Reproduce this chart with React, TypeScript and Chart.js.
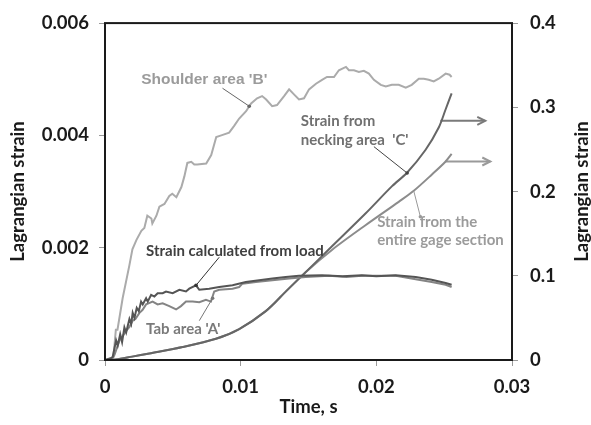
import React, { useEffect, useRef } from "react";
import { Chart, registerables } from "chart.js";

Chart.register(...registerables);

// ---------- tick labels ----------
const xTickLabels = ["0", "0.01", "0.02", "0.03"];
const leftTickLabels = ["0", "0.002", "0.004", "0.006"];
const rightTickLabels = ["0", "0.1", "0.2", "0.3", "0.4"];

// ---------- series (time s, strain) ----------
// Left axis
const shoulderB: number[][] = [
  [0, 0], [0.0006, 0], [0.0008, 0.00054], [0.00092, 0.00054], [0.0013, 0.0011], [0.0018, 0.00169],
  [0.00202, 0.00197], [0.00232, 0.00214], [0.00268, 0.0023], [0.0029, 0.00235], [0.00312, 0.00257],
  [0.00342, 0.00252], [0.00349, 0.00243], [0.00379, 0.00257], [0.00401, 0.00273], [0.00438, 0.00278],
  [0.00474, 0.00292], [0.00496, 0.00296], [0.00526, 0.0029], [0.00563, 0.00308], [0.00585, 0.00327],
  [0.00607, 0.00351], [0.00636, 0.00353], [0.00658, 0.00348], [0.0068, 0.00348], [0.00746, 0.0035],
  [0.00783, 0.00365], [0.0082, 0.00397], [0.00857, 0.004], [0.00915, 0.00405], [0.00952, 0.00417],
  [0.00989, 0.0043], [0.0104, 0.00443], [0.01077, 0.00457], [0.01121, 0.00466], [0.01158, 0.0047],
  [0.01188, 0.00464], [0.01232, 0.00452], [0.01268, 0.00454], [0.0132, 0.0047], [0.01357, 0.00482],
  [0.01393, 0.00473], [0.0143, 0.00464], [0.01467, 0.00466], [0.01504, 0.00482], [0.01555, 0.00492],
  [0.016, 0.00499], [0.01636, 0.00504], [0.01688, 0.00504], [0.01724, 0.00516], [0.01776, 0.00522],
  [0.01798, 0.00516], [0.01835, 0.00516], [0.01871, 0.00513], [0.01908, 0.00515], [0.01945, 0.0051],
  [0.01982, 0.00499], [0.02033, 0.0049], [0.0207, 0.00487], [0.02114, 0.0049], [0.02165, 0.0049],
  [0.02217, 0.00485], [0.02261, 0.0049], [0.02313, 0.00501], [0.0235, 0.00501], [0.02386, 0.00499],
  [0.02423, 0.00496], [0.0246, 0.00501], [0.02511, 0.0051], [0.0254, 0.00508], [0.02555, 0.00504],
];

const strainFromLoad: number[][] = [
  [0, 0], [0.00046, 0.000035], [0.00057, 0.000057], [0.00082, 0.00035], [0.00094, 0.00026],
  [0.00112, 0.00046], [0.00126, 0.00032], [0.00143, 0.00058], [0.00156, 0.00049], [0.0018, 0.00073],
  [0.00193, 0.00064], [0.00204, 0.00084], [0.00217, 0.00075], [0.00234, 0.00093], [0.00249, 0.00087],
  [0.00266, 0.00104], [0.00278, 0.00099], [0.00303, 0.0011], [0.00315, 0.00104], [0.0034, 0.00116],
  [0.00364, 0.00113], [0.00388, 0.00119], [0.00425, 0.00119], [0.0045, 0.00122], [0.00499, 0.00119],
  [0.00548, 0.00125], [0.00597, 0.00122], [0.00621, 0.00127], [0.00671, 0.00133], [0.00695, 0.00125],
  [0.00768, 0.00127], [0.00842, 0.0013], [0.0094, 0.00133], [0.01038, 0.00139], [0.01136, 0.00142],
  [0.01234, 0.00145], [0.01332, 0.00148], [0.0143, 0.0015], [0.016, 0.00151], [0.0175, 0.00149],
  [0.01893, 0.00151], [0.02, 0.00149], [0.02143, 0.00151], [0.0229, 0.00148], [0.02408, 0.00143],
  [0.02511, 0.00137], [0.02555, 0.00134],
];

const tabAreaA: number[][] = [
  [0, 0], [0.00055, 0.00003], [0.0007, 0.00009], [0.00107, 0.00035], [0.00129, 0.00042],
  [0.00156, 0.00052], [0.0018, 0.00059], [0.00204, 0.0007], [0.00224, 0.00073], [0.00254, 0.00084],
  [0.00276, 0.00089], [0.00303, 0.00099], [0.00351, 0.00104], [0.00388, 0.00099], [0.00425, 0.00101],
  [0.00474, 0.00096], [0.00524, 0.0009], [0.0056, 0.00096], [0.00597, 0.00104], [0.00646, 0.00104],
  [0.00695, 0.00103], [0.00744, 0.00107], [0.00781, 0.00104], [0.00805, 0.00122], [0.00842, 0.00125],
  [0.0094, 0.00127], [0.00989, 0.0013], [0.01013, 0.00136], [0.01112, 0.00139], [0.01234, 0.00142],
  [0.01357, 0.00145], [0.01479, 0.00148], [0.01651, 0.0015], [0.0178, 0.00148], [0.01893, 0.0015],
  [0.02143, 0.0015], [0.0229, 0.00144], [0.02408, 0.00139], [0.02511, 0.00134], [0.02555, 0.0013],
];

// Right axis
const neckingC: number[][] = [
  [0, 0], [0.0008, 0.0005], [0.002, 0.004], [0.00327, 0.0078], [0.00572, 0.0154], [0.00818, 0.0252],
  [0.00989, 0.0368], [0.01185, 0.058], [0.01332, 0.0812], [0.01479, 0.1043], [0.01675, 0.1353],
  [0.0192, 0.1739], [0.02116, 0.2064], [0.02226, 0.2223], [0.02362, 0.2493], [0.0246, 0.276],
  [0.02509, 0.2968], [0.02555, 0.3165],
];

const entireGage: number[][] = [
  [0, 0], [0.0008, 0.0005], [0.002, 0.004], [0.00327, 0.0078], [0.00572, 0.0154], [0.00818, 0.0252],
  [0.00989, 0.0368], [0.01185, 0.058], [0.01332, 0.0812], [0.01479, 0.1043], [0.01675, 0.131],
  [0.0192, 0.16], [0.02165, 0.1878], [0.02276, 0.2009], [0.0241, 0.2203], [0.02509, 0.2354],
  [0.02555, 0.2446],
];

const neckingArrow: number[][] = [[0.02472, 0.284], [0.02803, 0.284]];
const gageArrow: number[][] = [[0.02509, 0.2357], [0.0284, 0.2357]];

// ---------- annotations (data coords on left axis) ----------
const FONT = "Lato, 'Noto Sans', sans-serif";
const ARIAL = "'Liberation Sans', Arial, sans-serif";

const notes = [
  { text: "Shoulder area 'B'", at: [0.00732, 0.00499], align: "center", color: "#9b9b9b", font: `bold 15.5px ${ARIAL}` },
  { text: "Strain calculated from load", at: [0.00303, 0.00194], align: "left", color: "#404040", font: `bold 15px ${FONT}` },
  { text: "Tab area 'A'", at: [0.00303, 0.00055], align: "left", color: "#7a7a7a", font: `bold 15px ${FONT}` },
  { text: "Strain from", at: [0.01443, 0.00426], align: "left", color: "#707070", font: `bold 15px ${FONT}` },
  { text: "necking area  'C'", at: [0.01443, 0.00391], align: "left", color: "#707070", font: `bold 15px ${FONT}` },
  { text: "Strain from the", at: [0.02006, 0.00246], align: "left", color: "#9b9b9b", font: `bold 15px ${FONT}` },
  { text: "entire gage section", at: [0.02006, 0.00214], align: "left", color: "#9b9b9b", font: `bold 15px ${FONT}` },
];

const leaders = [
  { from: [0.00866, 0.00484], to: [0.01063, 0.00452], color: "#666666" },
  { from: [0.00842, 0.00183], to: [0.00671, 0.00133], color: "#333333" },
  { from: [0.00695, 0.0007], to: [0.00793, 0.0011], color: "#777777" },
  { from: [0.01982, 0.0038], to: [0.02227, 0.00333], color: "#444444" },
  { from: [0.02276, 0.00301], to: [0.02325, 0.00255], color: "#999999" },
];

const toPts = (arr: number[][]) => arr.map(([x, y]) => ({ x, y }));

const overlay = {
  id: "overlay",
  afterDatasetsDraw(chart: any) {
    const { ctx, chartArea: a, scales } = chart;
    const X = scales.x, Y = scales.y;
    ctx.save();
    // frame
    ctx.strokeStyle = "#1a1a1a";
    ctx.lineWidth = 2;
    ctx.strokeRect(a.left, a.top, a.right - a.left, a.bottom - a.top);

    // arrow heads
    chart.data.datasets.forEach((ds: any, i: number) => {
      if (!ds.isArrow) return;
      const meta = chart.getDatasetMeta(i);
      const p = meta.data[meta.data.length - 1];
      ctx.strokeStyle = ds.borderColor;
      ctx.lineWidth = 2;
      ctx.beginPath();
      ctx.moveTo(p.x - 8, p.y - 4);
      ctx.lineTo(p.x, p.y);
      ctx.lineTo(p.x - 8, p.y + 4);
      ctx.stroke();
    });

    // leaders
    for (const l of leaders) {
      const x1 = X.getPixelForValue(l.from[0]), y1 = Y.getPixelForValue(l.from[1]);
      const x2 = X.getPixelForValue(l.to[0]), y2 = Y.getPixelForValue(l.to[1]);
      ctx.strokeStyle = l.color;
      ctx.fillStyle = l.color;
      ctx.lineWidth = 1;
      ctx.beginPath();
      ctx.moveTo(x1, y1);
      ctx.lineTo(x2, y2);
      ctx.stroke();
      ctx.beginPath();
      ctx.arc(x2, y2, 1.8, 0, Math.PI * 2);
      ctx.fill();
    }

    // notes
    ctx.textBaseline = "middle";
    for (const n of notes) {
      ctx.font = n.font;
      ctx.fillStyle = n.color;
      ctx.textAlign = n.align;
      ctx.fillText(n.text, X.getPixelForValue(n.at[0]), Y.getPixelForValue(n.at[1]));
    }

    // axis titles
    ctx.fillStyle = "#1a1a1a";
    ctx.font = `bold 18.5px ${FONT}`;
    ctx.textAlign = "center";
    ctx.fillText("Time, s", (a.left + a.right) / 2, 407);
    const cy = (a.top + a.bottom) / 2;
    for (const cx of [18, 582]) {
      ctx.save();
      ctx.translate(cx, cy);
      ctx.rotate(-Math.PI / 2);
      ctx.fillText("Lagrangian strain", 0, 0);
      ctx.restore();
    }
    ctx.restore();
  },
};

const tickFont = { family: FONT, size: 18.5, weight: "bold" as const };

export default function App() {
  const ref = useRef<HTMLCanvasElement>(null);
  useEffect(() => {
    const line = (label: string, data: number[][], color: string, axis: string, extra: any = {}) => ({
      label,
      data: toPts(data),
      borderColor: color,
      backgroundColor: color,
      borderWidth: 2,
      pointRadius: 0,
      showLine: true,
      tension: 0,
      yAxisID: axis,
      ...extra,
    });
    const chart = new Chart(ref.current as HTMLCanvasElement, {
      type: "scatter",
      data: {
        datasets: [
          line("Strain calculated from load", strainFromLoad, "#555555", "y"),
          line("Tab area 'A'", tabAreaA, "#848484", "y"),
          line("Shoulder area 'B'", shoulderB, "#ababab", "y"),
          line("Strain from necking area 'C'", neckingC, "#666666", "y2", { tension: 0.3 }),
          line("Strain from the entire gage section", entireGage, "#8c8c8c", "y2", { tension: 0.3 }),
          line("arrowC", neckingArrow, "#7a7a7a", "y2", { isArrow: true }),
          line("arrowG", gageArrow, "#9a9a9a", "y2", { isArrow: true }),
        ] as any,
      },
      options: {
        animation: false,
        responsive: false,
        layout: { padding: { top: 15, left: 0, right: 0, bottom: 0 } },
        plugins: { legend: { display: false }, tooltip: { enabled: false } },
        scales: {
          x: {
            type: "linear",
            min: 0,
            max: 0.03,
            afterFit: (s: any) => { s.height = 65; },
            afterBuildTicks: (s: any) => { s.ticks = xTickLabels.map((_, i) => ({ value: i * 0.01 })); },
            ticks: { font: tickFont, color: "#1a1a1a", padding: 10, maxRotation: 0, callback: (_v: any, i: number) => xTickLabels[i] },
            grid: { drawOnChartArea: false, drawTicks: true, tickLength: 6, color: "#9a9a9a" },
            border: { display: false },
          },
          y: {
            type: "linear",
            position: "left",
            min: 0,
            max: 0.006,
            afterFit: (s: any) => { s.width = 105; },
            afterBuildTicks: (s: any) => { s.ticks = leftTickLabels.map((_, i) => ({ value: i * 0.002 })); },
            ticks: { font: tickFont, color: "#1a1a1a", padding: 10, callback: (_v: any, i: number) => leftTickLabels[i] },
            grid: { drawOnChartArea: false, drawTicks: true, tickLength: 6, color: "#9a9a9a" },
            border: { display: false },
          },
          y2: {
            type: "linear",
            position: "right",
            min: 0,
            max: 0.4,
            afterFit: (s: any) => { s.width = 79; },
            afterBuildTicks: (s: any) => { s.ticks = rightTickLabels.map((_, i) => ({ value: i * 0.1 })); },
            ticks: { font: tickFont, color: "#1a1a1a", padding: 12, callback: (_v: any, i: number) => rightTickLabels[i] },
            grid: { drawOnChartArea: false, drawTicks: true, tickLength: 6, color: "#9a9a9a" },
            border: { display: false },
          },
        },
      },
      plugins: [overlay],
    } as any);
    return () => chart.destroy();
  }, []);
  return (
    <div style={{ position: "fixed", left: 0, top: 0, width: 591, height: 425, background: "#fff" }}>
      <canvas ref={ref} width={591} height={425} style={{ display: "block" }} />
    </div>
  );
}
